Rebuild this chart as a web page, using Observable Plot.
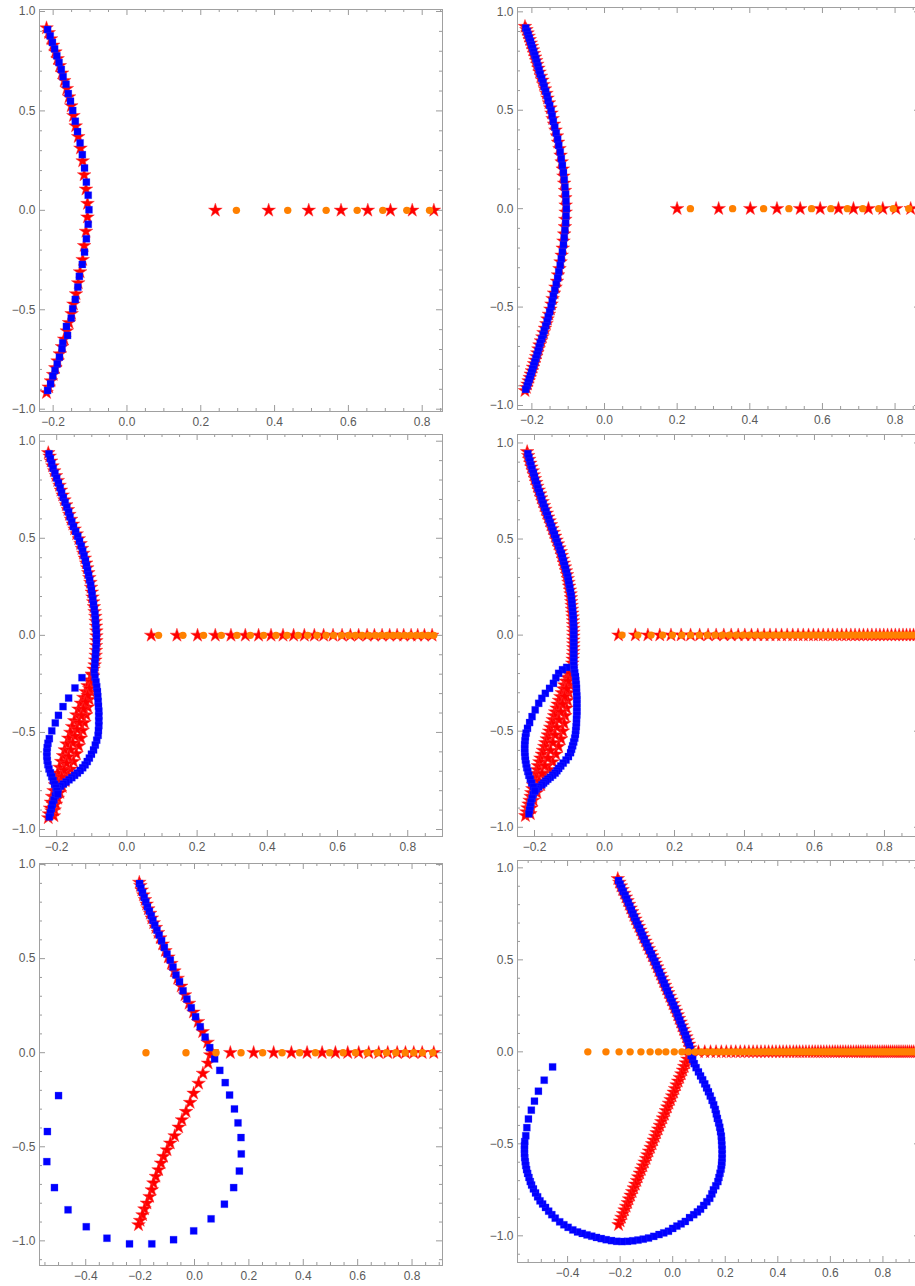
<!DOCTYPE html>
<html><head><meta charset="utf-8">
<script src="https://cdn.jsdelivr.net/npm/d3@7"></script>
<script src="https://cdn.jsdelivr.net/npm/@observablehq/plot@0.6"></script>
<style>
html,body{margin:0;padding:0;background:#fff;overflow:hidden;}
#root{position:relative;width:915px;height:1286px;overflow:hidden;background:#fff;}
.panel{position:absolute;}
.panel svg{max-width:none !important;}
</style></head><body><div id="root"></div>
<script>
// ---------- shared tick labels ----------
const yMajorTicks = [-1, -0.5, 0, 0.5, 1];
const xMajorTop = [-0.2, 0, 0.2, 0.4, 0.6, 0.8];
const xMajorBottom = [-0.4, -0.2, 0, 0.2, 0.4, 0.6, 0.8];

// ---------- Panel 1 ----------
const p1Squares = [[-0.215,0.909],[-0.208,0.877],[-0.202,0.844],[-0.196,0.812],[-0.190,0.777],[-0.184,0.743],[-0.178,0.708],[-0.173,0.672],[-0.165,0.634],[-0.159,0.587],[-0.153,0.549],[-0.147,0.502],[-0.140,0.448],[-0.134,0.396],[-0.127,0.339],[-0.121,0.280],[-0.115,0.213],[-0.110,0.142],[-0.105,0.076],[-0.103,0.003],
[-0.105,-0.070],[-0.110,-0.143],[-0.115,-0.210],[-0.121,-0.272],[-0.129,-0.332],[-0.133,-0.386],[-0.140,-0.448],[-0.147,-0.495],[-0.151,-0.542],[-0.164,-0.584],[-0.161,-0.629],[-0.174,-0.666],[-0.176,-0.696],[-0.183,-0.738],[-0.189,-0.772],[-0.195,-0.805],[-0.201,-0.834],[-0.207,-0.872],[-0.215,-0.906]];
const p1StarsCurve = [[-0.218,0.917],[-0.212,0.893],[-0.206,0.862],[-0.200,0.830],[-0.194,0.796],[-0.188,0.762],[-0.182,0.727],[-0.176,0.690],[-0.170,0.652],[-0.163,0.612],[-0.157,0.570],[-0.151,0.525],[-0.145,0.476],[-0.139,0.424],[-0.132,0.370],[-0.126,0.312],[-0.120,0.248],[-0.116,0.178],[-0.111,0.106],[-0.107,0.034],
[-0.107,-0.034],[-0.111,-0.106],[-0.116,-0.178],[-0.120,-0.248],[-0.127,-0.310],[-0.132,-0.365],[-0.138,-0.420],[-0.145,-0.472],[-0.150,-0.520],[-0.157,-0.565],[-0.163,-0.607],[-0.170,-0.648],[-0.176,-0.686],[-0.182,-0.722],[-0.188,-0.758],[-0.194,-0.792],[-0.200,-0.826],[-0.206,-0.858],[-0.212,-0.889],[-0.218,-0.917]];
const p1StarsAxis = [0.2395,0.384,0.4926,0.580,0.6526,0.714,0.773,0.8316];
const p1CirclesAxis = [0.2965,0.4356,0.5397,0.6238,0.6932,0.7583,0.8199];

// ---------- Panel 2 ----------
const p2Squares = [[-0.217,0.918],[-0.213,0.900],[-0.210,0.883],[-0.207,0.866],[-0.204,0.849],[-0.201,0.832],[-0.198,0.815],[-0.195,0.797],[-0.192,0.779],[-0.189,0.761],[-0.186,0.742],[-0.183,0.723],[-0.180,0.703],[-0.177,0.683],[-0.173,0.662],[-0.169,0.641],[-0.166,0.619],[-0.162,0.596],[-0.158,0.573],[-0.155,0.549],[-0.151,0.524],[-0.147,0.498],[-0.144,0.471],[-0.141,0.443],[-0.137,0.414],[-0.133,0.384],[-0.129,0.353],[-0.126,0.321],[-0.122,0.288],[-0.119,0.254],[-0.116,0.219],[-0.113,0.183],[-0.111,0.147],[-0.109,0.110],[-0.107,0.073],[-0.106,0.037],[-0.105,0.000],
[-0.106,-0.037],[-0.107,-0.073],[-0.109,-0.110],[-0.111,-0.147],[-0.113,-0.183],[-0.116,-0.219],[-0.119,-0.254],[-0.122,-0.288],[-0.126,-0.321],[-0.129,-0.353],[-0.133,-0.384],[-0.137,-0.414],[-0.141,-0.443],[-0.144,-0.471],[-0.147,-0.498],[-0.151,-0.524],[-0.155,-0.549],[-0.158,-0.573],[-0.162,-0.596],[-0.166,-0.619],[-0.169,-0.641],[-0.173,-0.662],[-0.177,-0.683],[-0.180,-0.703],[-0.183,-0.723],[-0.186,-0.742],[-0.189,-0.761],[-0.192,-0.779],[-0.195,-0.797],[-0.198,-0.815],[-0.201,-0.832],[-0.204,-0.849],[-0.207,-0.866],[-0.210,-0.883],[-0.213,-0.900],[-0.217,-0.918]];
const p2StarsCurve = [[-0.219,0.925],[-0.215,0.909],[-0.212,0.892],[-0.209,0.875],[-0.206,0.858],[-0.203,0.841],[-0.200,0.824],[-0.197,0.806],[-0.194,0.788],[-0.191,0.770],[-0.188,0.752],[-0.185,0.733],[-0.182,0.713],[-0.179,0.693],[-0.175,0.672],[-0.171,0.652],[-0.168,0.630],[-0.164,0.608],[-0.160,0.585],[-0.157,0.561],[-0.153,0.537],[-0.149,0.511],[-0.146,0.485],[-0.143,0.457],[-0.139,0.429],[-0.135,0.399],[-0.131,0.369],[-0.128,0.337],[-0.124,0.305],[-0.121,0.271],[-0.118,0.237],[-0.115,0.201],[-0.113,0.165],[-0.111,0.129],[-0.109,0.092],[-0.108,0.055],[-0.107,0.018],
[-0.107,-0.018],[-0.108,-0.055],[-0.109,-0.092],[-0.111,-0.129],[-0.113,-0.165],[-0.115,-0.201],[-0.118,-0.237],[-0.121,-0.271],[-0.124,-0.305],[-0.128,-0.337],[-0.131,-0.369],[-0.135,-0.399],[-0.139,-0.429],[-0.143,-0.457],[-0.146,-0.485],[-0.149,-0.511],[-0.153,-0.537],[-0.157,-0.561],[-0.160,-0.585],[-0.164,-0.608],[-0.168,-0.630],[-0.171,-0.652],[-0.175,-0.672],[-0.179,-0.693],[-0.182,-0.713],[-0.185,-0.733],[-0.188,-0.752],[-0.191,-0.770],[-0.194,-0.788],[-0.197,-0.806],[-0.200,-0.824],[-0.203,-0.841],[-0.206,-0.858],[-0.209,-0.875],[-0.212,-0.892],[-0.215,-0.909],[-0.219,-0.925]];
const p2StarsAxis = [0.1998,0.3143,0.4014,0.4748,0.5388,0.5938,0.6442,0.6854,0.7267,0.7662,0.8027,0.843];
const p2CirclesAxis = [0.2364,0.3527,0.438,0.5077,0.570,0.6232,0.6688,0.711,0.755,0.795,0.8377];

// ---------- Panel 3 ----------
const p3SquaresUpper = [[-0.222,0.935],[-0.218,0.910],[-0.214,0.885],[-0.210,0.860],[-0.205,0.835],[-0.200,0.810],[-0.195,0.785],[-0.190,0.760],[-0.186,0.735],[-0.181,0.710],[-0.176,0.685],[-0.171,0.660],[-0.166,0.635],[-0.162,0.610],[-0.157,0.585],[-0.152,0.560],[-0.146,0.535],[-0.140,0.510],[-0.135,0.485],[-0.130,0.460],[-0.126,0.435],[-0.122,0.410],[-0.118,0.385],[-0.115,0.360],[-0.112,0.335],[-0.109,0.310],[-0.106,0.285],[-0.103,0.260],[-0.101,0.235],[-0.099,0.210],[-0.097,0.185],[-0.095,0.160],[-0.093,0.135],[-0.091,0.110],[-0.090,0.085],[-0.089,0.060],[-0.088,0.035],[-0.087,0.010],[-0.087,-0.015],[-0.087,-0.040],[-0.088,-0.065],[-0.089,-0.090],[-0.090,-0.115],[-0.091,-0.140],[-0.092,-0.165]];
const p3SquaresRight = [[-0.093,-0.190],[-0.091,-0.215],[-0.088,-0.240],[-0.086,-0.265],[-0.084,-0.290],[-0.083,-0.315],[-0.082,-0.340],[-0.081,-0.365],[-0.080,-0.390],[-0.080,-0.415],[-0.080,-0.440],[-0.080,-0.465],[-0.081,-0.490],[-0.082,-0.515],[-0.086,-0.540],[-0.090,-0.565],[-0.095,-0.590],[-0.101,-0.612],[-0.107,-0.632],[-0.113,-0.650],[-0.119,-0.667],[-0.126,-0.682],[-0.133,-0.696],[-0.141,-0.709],[-0.149,-0.721],[-0.157,-0.733],[-0.165,-0.744],[-0.173,-0.755],[-0.181,-0.766],[-0.189,-0.777],[-0.196,-0.790],[-0.200,-0.806],[-0.204,-0.826],[-0.208,-0.848],[-0.212,-0.870],[-0.215,-0.892],[-0.218,-0.914],[-0.221,-0.935]];
const p3SquaresLoop = [[-0.128,-0.218],[-0.148,-0.271],[-0.166,-0.323],[-0.182,-0.367],[-0.195,-0.412],[-0.204,-0.451],[-0.214,-0.492],[-0.221,-0.532],[-0.225,-0.556],[-0.227,-0.578],[-0.228,-0.600],[-0.228,-0.622],[-0.227,-0.644],[-0.225,-0.666],[-0.222,-0.688],[-0.218,-0.708],[-0.214,-0.728],[-0.210,-0.748],[-0.206,-0.767],[-0.202,-0.785],[-0.199,-0.802],[-0.197,-0.818]];
const p3StarsUpper = [[-0.224,0.940],[-0.220,0.922],[-0.216,0.897],[-0.212,0.872],[-0.207,0.847],[-0.202,0.822],[-0.197,0.797],[-0.192,0.772],[-0.188,0.747],[-0.183,0.722],[-0.178,0.697],[-0.173,0.672],[-0.168,0.647],[-0.164,0.622],[-0.159,0.597],[-0.154,0.572],[-0.149,0.547],[-0.143,0.522],[-0.137,0.497],[-0.132,0.472],[-0.128,0.447],[-0.124,0.422],[-0.120,0.397],[-0.116,0.372],[-0.113,0.347],[-0.110,0.322],[-0.107,0.297],[-0.104,0.272],[-0.102,0.247],[-0.100,0.222],[-0.098,0.197],[-0.096,0.172],[-0.094,0.147],[-0.092,0.122],[-0.090,0.097],[-0.089,0.072],[-0.088,0.047],[-0.087,0.022],[-0.087,-0.003],[-0.087,-0.028],[-0.088,-0.053],[-0.088,-0.078],[-0.089,-0.103],[-0.090,-0.128],[-0.092,-0.153],[-0.095,-0.175]];
const p3StarsWedgeA = [[-0.100,-0.20],[-0.106,-0.23],[-0.112,-0.26],[-0.118,-0.29],[-0.124,-0.32],[-0.131,-0.35],[-0.138,-0.38],[-0.144,-0.41],[-0.150,-0.44],[-0.156,-0.47],[-0.161,-0.50],[-0.167,-0.53],[-0.172,-0.56],[-0.177,-0.59],[-0.182,-0.62],[-0.187,-0.65],[-0.192,-0.68],[-0.197,-0.71],[-0.201,-0.74],[-0.205,-0.77],[-0.209,-0.80],[-0.213,-0.83],[-0.216,-0.86],[-0.219,-0.89],[-0.222,-0.92],[-0.224,-0.94]];
const p3StarsWedgeB = [[-0.096,-0.21],[-0.099,-0.25],[-0.103,-0.29],[-0.107,-0.33],[-0.111,-0.37],[-0.116,-0.41],[-0.121,-0.45],[-0.126,-0.49],[-0.131,-0.53],[-0.137,-0.57],[-0.144,-0.61],[-0.152,-0.65],[-0.160,-0.69],[-0.168,-0.72],[-0.176,-0.75],[-0.184,-0.78],[-0.191,-0.81],[-0.197,-0.84],[-0.202,-0.87],[-0.206,-0.90],[-0.208,-0.93]];
const p3StarsWedgeC = [[-0.098,-0.205],[-0.102,-0.24],[-0.107,-0.275],[-0.112,-0.31],[-0.118,-0.345],[-0.124,-0.38],[-0.130,-0.415],[-0.136,-0.45],[-0.142,-0.485],[-0.148,-0.52],[-0.154,-0.555],[-0.160,-0.59],[-0.166,-0.625],[-0.172,-0.66],[-0.179,-0.695],[-0.186,-0.73],[-0.193,-0.765],[-0.200,-0.80],[-0.206,-0.835],[-0.211,-0.87],[-0.215,-0.905]];
const p3StarsAxis = [0.0693,0.1425,0.2012,0.2517,0.2964,0.3372,0.3751,0.4105,0.4447,0.4749,0.5054,0.5339,0.5604,0.5872,0.6129,0.6366,0.6602,0.6842,0.705,0.7269,0.7486,0.7697,0.7885,0.8096,0.8284,0.8475,0.8694];
const p3CirclesAxis = [0.0901,0.1596,0.2183,0.2688,0.3135,0.3515,0.3894,0.4247,0.4561,0.4874,0.5148,0.5416,0.5673,0.5889,0.6109,0.6317,0.6508,0.6699,0.6887,0.7078,0.7249,0.7412,0.7583,0.7742,0.7913,0.8076,0.8247,0.8409,0.858,0.874];

// ---------- Panel 4 ----------
const p4SquaresUpper = [[-0.219,0.944],[-0.216,0.924],[-0.213,0.904],[-0.210,0.884],[-0.207,0.864],[-0.203,0.844],[-0.200,0.824],[-0.197,0.804],[-0.193,0.784],[-0.190,0.764],[-0.186,0.744],[-0.182,0.724],[-0.179,0.704],[-0.175,0.684],[-0.171,0.664],[-0.167,0.644],[-0.163,0.624],[-0.159,0.604],[-0.155,0.584],[-0.151,0.564],[-0.147,0.544],[-0.143,0.524],[-0.139,0.504],[-0.135,0.484],[-0.131,0.464],[-0.127,0.444],[-0.123,0.424],[-0.120,0.404],[-0.117,0.384],[-0.114,0.364],[-0.111,0.344],[-0.108,0.324],[-0.105,0.304],[-0.103,0.284],[-0.101,0.264],[-0.099,0.244],[-0.097,0.224],[-0.095,0.204],[-0.094,0.184],[-0.093,0.164],[-0.092,0.144],[-0.091,0.124],[-0.090,0.104],[-0.089,0.084],[-0.089,0.064],[-0.088,0.044],[-0.088,0.024],[-0.088,0.004],[-0.088,-0.016],[-0.088,-0.036],[-0.088,-0.056],[-0.088,-0.076],[-0.088,-0.096],[-0.088,-0.116],[-0.088,-0.136],[-0.088,-0.156]];
const p4SquaresRight = [[-0.087,-0.176],[-0.085,-0.196],[-0.083,-0.216],[-0.082,-0.236],[-0.081,-0.256],[-0.080,-0.276],[-0.080,-0.296],[-0.079,-0.316],[-0.079,-0.336],[-0.079,-0.356],[-0.079,-0.376],[-0.079,-0.396],[-0.079,-0.416],[-0.080,-0.436],[-0.080,-0.456],[-0.081,-0.476],[-0.082,-0.496],[-0.083,-0.516],[-0.085,-0.536],[-0.088,-0.556],[-0.091,-0.576],[-0.094,-0.594],[-0.097,-0.612],[-0.103,-0.632],[-0.110,-0.650],[-0.118,-0.666],[-0.125,-0.681],[-0.131,-0.694],[-0.136,-0.706],[-0.141,-0.718],[-0.148,-0.729],[-0.155,-0.740],[-0.162,-0.750],[-0.168,-0.760],[-0.174,-0.770],[-0.179,-0.779],[-0.188,-0.790],[-0.195,-0.800],[-0.200,-0.812],[-0.204,-0.830],[-0.207,-0.850],[-0.210,-0.870],[-0.212,-0.890],[-0.214,-0.910],[-0.216,-0.930]];
const p4SquaresLoop = [[-0.108,-0.168],[-0.120,-0.180],[-0.131,-0.199],[-0.139,-0.222],[-0.146,-0.251],[-0.157,-0.277],[-0.169,-0.303],[-0.179,-0.329],[-0.188,-0.355],[-0.198,-0.389],[-0.207,-0.424],[-0.214,-0.455],[-0.220,-0.485],[-0.224,-0.510],[-0.226,-0.530],[-0.227,-0.550],[-0.228,-0.570],[-0.228,-0.590],[-0.228,-0.610],[-0.227,-0.630],[-0.226,-0.650],[-0.224,-0.670],[-0.222,-0.690],[-0.219,-0.710],[-0.216,-0.730],[-0.212,-0.750],[-0.208,-0.770],[-0.203,-0.790],[-0.199,-0.810]];
const p4StarsUpper = [[-0.221,0.954],[-0.218,0.934],[-0.215,0.914],[-0.212,0.894],[-0.209,0.874],[-0.205,0.854],[-0.202,0.834],[-0.199,0.814],[-0.195,0.794],[-0.192,0.774],[-0.188,0.754],[-0.184,0.734],[-0.181,0.714],[-0.177,0.694],[-0.173,0.674],[-0.169,0.654],[-0.165,0.634],[-0.161,0.614],[-0.157,0.594],[-0.153,0.574],[-0.149,0.554],[-0.145,0.534],[-0.141,0.514],[-0.137,0.494],[-0.133,0.474],[-0.129,0.454],[-0.125,0.434],[-0.122,0.414],[-0.119,0.394],[-0.116,0.374],[-0.113,0.354],[-0.110,0.334],[-0.107,0.314],[-0.105,0.294],[-0.103,0.274],[-0.101,0.254],[-0.099,0.234],[-0.097,0.214],[-0.096,0.194],[-0.095,0.174],[-0.094,0.154],[-0.093,0.134],[-0.092,0.114],[-0.091,0.094],[-0.090,0.074],[-0.090,0.054],[-0.089,0.034],[-0.089,0.014],[-0.089,-0.006],[-0.089,-0.026],[-0.089,-0.046],[-0.089,-0.066],[-0.089,-0.086],[-0.090,-0.106],[-0.091,-0.126],[-0.092,-0.146],[-0.094,-0.166]];
const p4StarsWedgeA = [[-0.101,-0.18],[-0.104,-0.20],[-0.108,-0.22],[-0.111,-0.24],[-0.115,-0.26],[-0.118,-0.28],[-0.122,-0.30],[-0.126,-0.32],[-0.130,-0.34],[-0.134,-0.36],[-0.137,-0.38],[-0.141,-0.40],[-0.144,-0.42],[-0.148,-0.44],[-0.151,-0.46],[-0.155,-0.48],[-0.158,-0.50],[-0.162,-0.52],[-0.165,-0.54],[-0.169,-0.56],[-0.172,-0.58],[-0.176,-0.60],[-0.179,-0.62],[-0.183,-0.64],[-0.186,-0.66],[-0.190,-0.68],[-0.193,-0.70],[-0.196,-0.72],[-0.199,-0.74],[-0.201,-0.76],[-0.204,-0.78],[-0.206,-0.80],[-0.209,-0.82],[-0.211,-0.84],[-0.214,-0.86],[-0.217,-0.88],[-0.220,-0.90],[-0.223,-0.92],[-0.226,-0.94]];
const p4StarsWedgeB = [[-0.095,-0.18],[-0.097,-0.22],[-0.099,-0.26],[-0.102,-0.30],[-0.105,-0.34],[-0.108,-0.38],[-0.112,-0.42],[-0.115,-0.46],[-0.119,-0.50],[-0.124,-0.54],[-0.131,-0.58],[-0.139,-0.62],[-0.148,-0.66],[-0.158,-0.70],[-0.170,-0.74],[-0.182,-0.78],[-0.193,-0.82],[-0.203,-0.86],[-0.209,-0.90],[-0.212,-0.93]];
const p4StarsWedgeC = [[-0.100,-0.20],[-0.104,-0.24],[-0.109,-0.28],[-0.114,-0.32],[-0.120,-0.36],[-0.125,-0.40],[-0.130,-0.44],[-0.136,-0.48],[-0.141,-0.52],[-0.147,-0.56],[-0.154,-0.60],[-0.161,-0.64],[-0.170,-0.68],[-0.178,-0.72],[-0.187,-0.76],[-0.196,-0.80],[-0.205,-0.84],[-0.212,-0.88]];
const p4StarsAxis = [0.040,0.088,0.124,0.158,0.190,0.219,0.246,0.272,0.296,0.319,0.341,0.362,0.382,0.401,0.420,0.438,0.456,0.473,0.490,0.506,0.522,0.538,0.553,0.568,0.583,0.597,0.611,0.625,0.639,0.652,0.665,0.678,0.691,0.704,0.716,0.728,0.740,0.752,0.764,0.776,0.787,0.798,0.809,0.820,0.831,0.842,0.853,0.863,0.873,0.883,0.893,0.903];
const p4CirclesAxis = [0.050,0.095,0.133,0.166,0.194,0.221,0.246,0.271,0.294,0.316,0.337,0.357,0.377,0.396,0.414,0.432,0.449,0.466,0.483,0.499,0.515,0.530,0.545,0.560,0.575,0.589,0.603,0.617,0.630,0.643,0.656,0.669,0.682,0.694,0.706,0.718,0.730,0.742,0.754,0.765,0.776,0.787,0.798,0.809,0.820,0.831,0.841,0.851,0.861,0.871,0.881,0.891,0.901];

// ---------- Panel 5 ----------
const p5Squares = [[-0.202,0.899],[-0.197,0.876],[-0.191,0.851],[-0.185,0.825],[-0.179,0.802],[-0.173,0.775],[-0.166,0.752],[-0.159,0.728],[-0.153,0.703],[-0.146,0.678],[-0.138,0.651],[-0.130,0.625],[-0.121,0.595],[-0.111,0.559],[-0.101,0.524],[-0.089,0.492],[-0.079,0.455],[-0.068,0.413],[-0.055,0.377],[-0.042,0.329],[-0.028,0.285],[-0.012,0.239],[0.004,0.191],[0.021,0.138],[0.039,0.083],[0.056,0.027],[0.074,-0.033],[0.093,-0.094],[0.113,-0.159],[0.129,-0.225],[0.147,-0.299],[0.160,-0.373],[0.171,-0.451],[0.172,-0.538],[0.165,-0.629],[0.144,-0.717],[0.110,-0.805],[0.061,-0.883],[-0.003,-0.947],[-0.077,-0.994],[-0.157,-1.016],[-0.239,-1.016],[-0.322,-0.986],[-0.398,-0.925],[-0.465,-0.835],[-0.515,-0.717],[-0.543,-0.579],[-0.541,-0.419],[-0.500,-0.228]];
const p5StarsUpper = [[-0.203,0.905],[-0.199,0.888],[-0.194,0.864],[-0.188,0.838],[-0.182,0.813],[-0.176,0.789],[-0.170,0.764],[-0.163,0.740],[-0.157,0.715],[-0.150,0.690],[-0.142,0.665],[-0.134,0.638],[-0.126,0.610],[-0.117,0.577],[-0.107,0.542],[-0.096,0.508],[-0.085,0.474],[-0.074,0.434],[-0.062,0.395],[-0.049,0.353],[-0.035,0.307],[-0.020,0.262],[-0.004,0.215],[0.013,0.165],[0.030,0.111],[0.048,0.055],[0.064,0.005]];
const p5StarsLower = [[0.058,-0.012],[0.050,-0.056],[0.031,-0.110],[0.015,-0.163],[-0.003,-0.216],[-0.016,-0.265],[-0.031,-0.313],[-0.046,-0.357],[-0.058,-0.396],[-0.073,-0.442],[-0.089,-0.481],[-0.101,-0.517],[-0.114,-0.552],[-0.123,-0.587],[-0.132,-0.623],[-0.142,-0.658],[-0.151,-0.693],[-0.157,-0.729],[-0.165,-0.765],[-0.175,-0.800],[-0.184,-0.831],[-0.191,-0.862],[-0.200,-0.892],[-0.206,-0.915]];
const p5StarsAxis = [0.1318,0.2175,0.2911,0.3563,0.414,0.4693,0.5182,0.5635,0.604,0.6408,0.6776,0.7107,0.7453,0.7758,0.8064,0.8373,0.880];
const p5CirclesAxis = [-0.1785,-0.0313,0.0791,0.1711,0.2506,0.322,0.3868,0.4446,0.4972,0.5466,0.5918,0.6348,0.6716,0.7059,0.7401,0.7747,0.8063,0.8384,0.8763];

// ---------- Panel 6 ----------
const p6SquaresUpper = [[-0.206,0.931],[-0.200,0.911],[-0.194,0.891],[-0.188,0.871],[-0.181,0.851],[-0.175,0.831],[-0.169,0.811],[-0.163,0.791],[-0.157,0.771],[-0.151,0.751],[-0.145,0.731],[-0.139,0.711],[-0.133,0.691],[-0.126,0.671],[-0.120,0.651],[-0.114,0.631],[-0.108,0.611],[-0.101,0.591],[-0.095,0.571],[-0.088,0.551],[-0.081,0.531],[-0.075,0.511],[-0.068,0.491],[-0.062,0.471],[-0.056,0.451],[-0.050,0.431],[-0.044,0.411],[-0.038,0.391],[-0.032,0.371],[-0.026,0.351],[-0.020,0.331],[-0.014,0.311],[-0.008,0.291],[-0.002,0.271],[0.004,0.251],[0.010,0.231],[0.016,0.211],[0.021,0.191],[0.027,0.171],[0.032,0.151],[0.038,0.131],[0.043,0.111],[0.049,0.091],[0.054,0.071],[0.059,0.051],[0.064,0.031],[0.068,0.011]];
const p6SquaresLoop = [[0.070,-0.020],[0.076,-0.042],[0.082,-0.064],[0.089,-0.086],[0.098,-0.109],[0.106,-0.131],[0.114,-0.152],[0.122,-0.174],[0.129,-0.196],[0.136,-0.217],[0.143,-0.240],[0.150,-0.264],[0.156,-0.288],[0.162,-0.313],[0.166,-0.337],[0.170,-0.362],[0.175,-0.386],[0.179,-0.410],[0.182,-0.434],[0.185,-0.458],[0.186,-0.482],[0.187,-0.506],[0.188,-0.530],[0.188,-0.554],[0.188,-0.578],[0.187,-0.600],[0.186,-0.615],[0.184,-0.637],[0.180,-0.660],[0.176,-0.683],[0.172,-0.705],[0.164,-0.728],[0.155,-0.750],[0.149,-0.772],[0.141,-0.796],[0.130,-0.815],[0.118,-0.835],[0.106,-0.855],[0.094,-0.870],[0.080,-0.885],[0.064,-0.901],[0.048,-0.922],[0.032,-0.935],[0.016,-0.947],[0.000,-0.960],[-0.016,-0.975],[-0.034,-0.984],[-0.052,-0.993],[-0.072,-1.003],[-0.092,-1.012],[-0.112,-1.018],[-0.132,-1.023],[-0.152,-1.027],[-0.172,-1.030],[-0.193,-1.031],[-0.213,-1.030],[-0.233,-1.026],[-0.253,-1.021],[-0.272,-1.015],[-0.290,-1.009],[-0.308,-1.002],[-0.326,-0.995],[-0.344,-0.987],[-0.362,-0.979],[-0.380,-0.968],[-0.398,-0.954],[-0.414,-0.940],[-0.430,-0.924],[-0.447,-0.904],[-0.460,-0.885],[-0.472,-0.866],[-0.484,-0.846],[-0.495,-0.827],[-0.505,-0.810],[-0.514,-0.788],[-0.522,-0.767],[-0.530,-0.745],[-0.537,-0.724],[-0.542,-0.705],[-0.547,-0.683],[-0.552,-0.661],[-0.556,-0.640],[-0.559,-0.618],[-0.561,-0.597],[-0.563,-0.575],[-0.564,-0.553],[-0.564,-0.531],[-0.564,-0.510],[-0.563,-0.488],[-0.559,-0.456],[-0.555,-0.412],[-0.549,-0.365],[-0.538,-0.317],[-0.526,-0.268],[-0.511,-0.214],[-0.489,-0.154],[-0.457,-0.082]];
const p6StarsUpper = [[-0.209,0.941],[-0.203,0.921],[-0.197,0.901],[-0.191,0.881],[-0.184,0.861],[-0.178,0.841],[-0.172,0.821],[-0.166,0.801],[-0.160,0.781],[-0.154,0.761],[-0.148,0.741],[-0.142,0.721],[-0.136,0.701],[-0.129,0.681],[-0.123,0.661],[-0.117,0.641],[-0.111,0.621],[-0.104,0.601],[-0.098,0.581],[-0.091,0.561],[-0.084,0.541],[-0.078,0.521],[-0.071,0.501],[-0.065,0.481],[-0.059,0.461],[-0.053,0.441],[-0.047,0.421],[-0.041,0.401],[-0.035,0.381],[-0.029,0.361],[-0.023,0.341],[-0.017,0.321],[-0.011,0.301],[-0.005,0.281],[0.001,0.261],[0.007,0.241],[0.013,0.221],[0.019,0.201],[0.024,0.181],[0.030,0.161],[0.035,0.141],[0.041,0.121],[0.046,0.101],[0.052,0.081],[0.057,0.061],[0.062,0.041],[0.066,0.021],[0.070,0.001]];
const p6StarsLower = [[0.062,-0.020],[0.056,-0.040],[0.050,-0.060],[0.044,-0.080],[0.039,-0.100],[0.033,-0.120],[0.027,-0.140],[0.021,-0.160],[0.015,-0.180],[0.009,-0.200],[0.004,-0.220],[-0.002,-0.240],[-0.008,-0.260],[-0.014,-0.280],[-0.020,-0.300],[-0.026,-0.320],[-0.031,-0.340],[-0.037,-0.360],[-0.043,-0.380],[-0.049,-0.400],[-0.055,-0.420],[-0.061,-0.440],[-0.066,-0.460],[-0.072,-0.480],[-0.078,-0.500],[-0.084,-0.520],[-0.090,-0.540],[-0.096,-0.560],[-0.101,-0.580],[-0.107,-0.600],[-0.113,-0.620],[-0.119,-0.640],[-0.125,-0.660],[-0.131,-0.680],[-0.136,-0.700],[-0.142,-0.720],[-0.148,-0.740],[-0.154,-0.760],[-0.160,-0.780],[-0.166,-0.800],[-0.171,-0.820],[-0.177,-0.840],[-0.183,-0.860],[-0.189,-0.880],[-0.195,-0.900],[-0.200,-0.920],[-0.206,-0.940]];
const p6StarsAxis = [0.072,0.098,0.122,0.144,0.165,0.185,0.204,0.222,0.240,0.257,0.274,0.290,0.306,0.321,0.336,0.351,0.365,0.379,0.393,0.407,0.420,0.433,0.446,0.459,0.471,0.483,0.495,0.507,0.519,0.531,0.542,0.553,0.564,0.575,0.586,0.597,0.608,0.618,0.628,0.638,0.648,0.658,0.668,0.678,0.688,0.698,0.707,0.716,0.725,0.734,0.743,0.752,0.761,0.770,0.779,0.788,0.797,0.805,0.813,0.821,0.829,0.837,0.845,0.853,0.861,0.869,0.877,0.885,0.893,0.901,0.909,0.917,0.925,0.933,0.941];
const p6CirclesAxis = [-0.323,-0.254,-0.204,-0.162,-0.121,-0.086,-0.054,-0.026,0.006,0.035,0.060,0.085,0.109,0.131,0.152,0.172,0.191,0.209,0.227,0.244,0.261,0.277,0.293,0.308,0.323,0.338,0.352,0.366,0.380,0.394,0.407,0.420,0.433,0.445,0.457,0.469,0.481,0.493,0.505,0.516,0.527,0.538,0.549,0.560,0.571,0.582,0.592,0.602,0.612,0.622,0.632,0.642,0.652,0.662,0.672,0.682,0.691,0.700,0.709,0.718,0.727,0.736,0.745,0.754,0.763,0.772,0.781,0.789,0.797,0.805,0.813,0.821,0.829,0.837,0.845,0.853,0.861,0.869,0.877,0.885,0.893,0.901,0.909,0.917,0.925,0.933,0.941];

// ---------- drawing ----------
const FW = 403, FH = 402, ML = 39, MT = 9, MR = 14, MB = 26;
const onAxis = xs => xs.map(x => [x, 0]);

function panel({xDomain, yDomain, xMajor, stars, squares, circles, left, top}) {
  const xMinor = d3.range(-24, 24).map(i => i / 20)
    .filter(v => v > xDomain[0] && v < xDomain[1] && Math.abs(v * 5 - Math.round(v * 5)) > 1e-6);
  const yMinor = d3.range(-15, 16).map(i => i / 10)
    .filter(v => v > yDomain[0] && v < yDomain[1] && Math.abs(v * 2 - Math.round(v * 2)) > 1e-6);
  const xM = xMajor.filter(v => v >= xDomain[0] && v <= xDomain[1]);
  const tc = "#9a9a9a";
  const fmt = d3.format(".1f");
  const W = ML + FW + MR, H = MT + FH + MB;
  const svg = Plot.plot({
    width: W, height: H,
    marginLeft: ML, marginTop: MT, marginRight: MR, marginBottom: MB,
    x: {domain: xDomain}, y: {domain: yDomain},
    style: {fontFamily: "'Liberation Sans', Arial, sans-serif", fontSize: "12px", background: "transparent", overflow: "visible", maxWidth: "none"},
    marks: [
      Plot.tickX(xM, {x: d => d, insetTop: FH - 6, stroke: tc}),
      Plot.tickX(xM, {x: d => d, insetBottom: FH - 6, stroke: tc}),
      Plot.tickX(xMinor, {x: d => d, insetTop: FH - 3, stroke: tc}),
      Plot.tickX(xMinor, {x: d => d, insetBottom: FH - 3, stroke: tc}),
      Plot.tickY(yMajorTicks, {y: d => d, insetRight: FW - 6, stroke: tc}),
      Plot.tickY(yMajorTicks, {y: d => d, insetLeft: FW - 6, stroke: tc}),
      Plot.tickY(yMinor, {y: d => d, insetRight: FW - 3, stroke: tc}),
      Plot.tickY(yMinor, {y: d => d, insetLeft: FW - 3, stroke: tc}),
      Plot.axisX(xM, {anchor: "bottom", tickSize: 0, tickPadding: 6, tickFormat: fmt, color: "#5a5a5a"}),
      Plot.axisY(yMajorTicks, {anchor: "left", tickSize: 0, tickPadding: 4, tickFormat: fmt, color: "#5a5a5a"}),
      Plot.dot(stars, {x: d => d[0], y: d => d[1], symbol: "star", r: 4.3, fill: "#ff0000", stroke: "#ff3030", strokeWidth: 0.8, strokeOpacity: 0.6}),
      Plot.dot(squares, {x: d => d[0], y: d => d[1], symbol: "square", r: 4.0, fill: "#0000ff", stroke: "#3a3aff", strokeWidth: 0.5, strokeOpacity: 0.5}),
      Plot.dot(circles, {x: d => d[0], y: d => d[1], symbol: "circle", r: 3.7, fill: "#ff8000"}),
      Plot.frame({stroke: "#a0a0a0"})
    ]
  });
  svg.style.maxWidth = "none";
  svg.setAttribute("width", W);
  svg.setAttribute("height", H);
  const div = document.createElement("div");
  div.className = "panel";
  div.style.left = left + "px";
  div.style.top = top + "px";
  div.style.width = W + "px";
  div.style.height = H + "px";
  div.appendChild(svg);
  document.getElementById("root").appendChild(div);
}

panel({xDomain: [-0.237, 0.855], yDomain: [-1.0116, 1.010], xMajor: xMajorTop,
  stars: [...p1StarsCurve, ...onAxis(p1StarsAxis)], squares: p1Squares, circles: onAxis(p1CirclesAxis), left: 0, top: 0});
panel({xDomain: [-0.2396, 0.870], yDomain: [-1.0203, 1.022], xMajor: xMajorTop,
  stars: [...p2StarsCurve, ...onAxis(p2StarsAxis)], squares: p2Squares, circles: onAxis(p2CirclesAxis), left: 478, top: -2});
panel({xDomain: [-0.249, 0.899], yDomain: [-1.036, 1.0345], xMajor: xMajorTop,
  stars: [...p3StarsUpper, ...p3StarsWedgeA, ...p3StarsWedgeB, ...p3StarsWedgeC, ...onAxis(p3StarsAxis)],
  squares: [...p3SquaresUpper, ...p3SquaresRight, ...p3SquaresLoop], circles: onAxis(p3CirclesAxis), left: 0, top: 425});
panel({xDomain: [-0.2486, 0.903], yDomain: [-1.048, 1.044], xMajor: xMajorTop,
  stars: [...p4StarsUpper, ...p4StarsWedgeA, ...p4StarsWedgeB, ...p4StarsWedgeC, ...onAxis(p4StarsAxis)],
  squares: [...p4SquaresUpper, ...p4SquaresRight, ...p4SquaresLoop], circles: onAxis(p4CirclesAxis), left: 478, top: 425});
panel({xDomain: [-0.570, 0.912], yDomain: [-1.131, 1.0056], xMajor: xMajorBottom,
  stars: [...p5StarsUpper, ...p5StarsLower, ...onAxis(p5StarsAxis)], squares: p5Squares, circles: onAxis(p5CirclesAxis), left: 0, top: 854});
panel({xDomain: [-0.5906, 0.943], yDomain: [-1.145, 1.040], xMajor: xMajorBottom,
  stars: [...p6StarsUpper, ...p6StarsLower, ...onAxis(p6StarsAxis)], squares: [...p6SquaresUpper, ...p6SquaresLoop], circles: onAxis(p6CirclesAxis), left: 478, top: 851});
</script></body></html>
